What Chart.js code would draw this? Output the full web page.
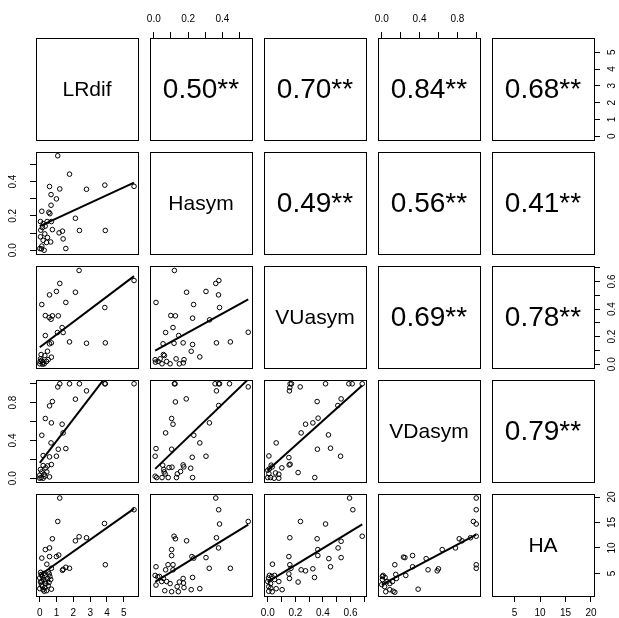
<!DOCTYPE html>
<html><head><meta charset="utf-8">
<script src="https://cdn.jsdelivr.net/npm/chart.js@4.4.1/dist/chart.umd.min.js"></script>
<style>
html,body{margin:0;padding:0;background:#fff;}
#wrap{position:relative;width:619px;height:618px;overflow:hidden;background:#fff;}
#wrap canvas{position:absolute;left:0;top:0;}
</style></head><body><div id="wrap"></div>
<script>
// ---------- DATA ----------
const varNames = ['LRdif', 'Hasym', 'VUasym', 'VDasym', 'HA'];
const varMin = [0, 0, 0, 0, 1.3];
const varMax = [5.62, 0.55, 0.685, 1.0, 19.85];
const tickStep = [1, 0.1, 0.1, 0.2, 5];
const labelEvery = [1, 2, 2, 2, 1];
const tickDecimals = [0, 1, 1, 1, 0];

// correlation labels (upper triangle), row by row
const corrRow0 = ['', '0.50**', '0.70**', '0.84**', '0.68**'];
const corrRow1 = ['', '', '0.49**', '0.56**', '0.41**'];
const corrRow2 = ['', '', '', '0.69**', '0.78**'];
const corrRow3 = ['', '', '', '', '0.79**'];

// scatter points [x, y] for lower panels
const hasym_vs_lrdif = [[1.07,0.55],[1.77,0.443],[0.58,0.371],[1.19,0.357],[0.67,0.324],[0.99,0.299],[0.67,0.262],[2.78,0.355],[3.87,0.379],[5.61,0.372],[0.12,0.227],[0.54,0.221],[0.6,0.213],[0.04,0.167],[0.44,0.167],[0.69,0.167],[2.12,0.186],[0.16,0.132],[0.32,0.14],[0.75,0.12],[1.15,0.101],[1.35,0.111],[2.36,0.115],[3.9,0.115],[1.39,0.066],[1.55,0.01],[0.04,0.078],[0.3,0.095],[0.46,0.074],[0.2,0.058],[0.65,0.048],[0.12,0.024],[0.26,0.0],[0.1,0.008],[0.4,0.045],[0.0,0.01],[0.2,0.155],[0.06,0.117]];
const vuasym_vs_lrdif = [[2.34,0.68],[1.19,0.586],[0.99,0.528],[0.58,0.503],[2.12,0.522],[1.55,0.448],[0.12,0.433],[3.87,0.411],[5.61,0.607],[0.33,0.353],[0.56,0.339],[0.75,0.351],[0.67,0.326],[1.1,0.351],[1.33,0.266],[1.05,0.23],[1.39,0.23],[0.33,0.208],[0.58,0.148],[0.69,0.155],[1.77,0.162],[2.78,0.152],[3.9,0.155],[0.46,0.094],[0.08,0.07],[0.69,0.051],[0.3,0.063],[0.04,0.039],[0.2,0.015],[0.0,0.003],[0.4,0.02],[0.16,0.0],[0.1,0.027],[0.26,0.003],[0.02,0.02],[0.5,0.033]];
const vuasym_vs_hasym = [[0.12,0.68],[0.379,0.607],[0.361,0.586],[0.191,0.522],[0.304,0.528],[0.377,0.503],[0.013,0.448],[0.232,0.433],[0.383,0.411],[0.099,0.353],[0.126,0.351],[0.226,0.334],[0.325,0.322],[0.112,0.266],[0.069,0.23],[0.145,0.208],[0.55,0.232],[0.054,0.148],[0.118,0.152],[0.171,0.155],[0.226,0.143],[0.365,0.155],[0.446,0.162],[0.218,0.094],[0.056,0.07],[0.268,0.053],[0.008,0.033],[0.025,0.02],[0.048,0.003],[0.075,0.02],[0.095,0.003],[0.13,0.039],[0.149,0.003],[0.172,0.01],[0.062,0.063],[0.01,0.015],[0.037,0.039],[0.176,0.033]];
const vdasym_vs_lrdif = [[1.19,1.0],[1.77,1.0],[2.36,1.0],[1.07,0.967],[3.87,1.0],[3.9,1.0],[5.61,1.0],[2.78,0.925],[2.12,0.837],[0.75,0.812],[0.58,0.766],[0.33,0.632],[0.69,0.586],[1.33,0.572],[1.39,0.48],[0.12,0.455],[0.67,0.374],[1.55,0.314],[1.1,0.307],[0.99,0.233],[0.58,0.226],[0.2,0.24],[0.69,0.145],[0.46,0.131],[0.2,0.134],[0.04,0.092],[0.36,0.11],[0.12,0.067],[0.0,0.032],[0.26,0.042],[0.58,0.014],[0.08,0.007],[0.2,0.0],[0.0,0.0],[0.42,0.067],[0.3,0.021]];
const vdasym_vs_hasym = [[0.12,1.0],[0.124,1.0],[0.357,1.0],[0.378,1.0],[0.383,1.0],[0.441,1.0],[0.55,0.967],[0.365,0.925],[0.189,0.84],[0.126,0.808],[0.378,0.77],[0.104,0.632],[0.112,0.572],[0.324,0.586],[0.069,0.48],[0.233,0.455],[0.268,0.374],[0.013,0.314],[0.104,0.307],[0.008,0.233],[0.224,0.222],[0.304,0.233],[0.052,0.138],[0.106,0.117],[0.171,0.141],[0.175,0.12],[0.215,0.106],[0.058,0.092],[0.089,0.113],[0.156,0.071],[0.06,0.067],[0.008,0.021],[0.017,0.007],[0.048,0.007],[0.084,0.007],[0.132,0.007],[0.226,0.007],[0.137,0.046],[0.066,0.046]];
const vdasym_vs_vuasym = [[0.162,1.0],[0.172,1.0],[0.16,0.96],[0.157,0.925],[0.235,0.967],[0.419,1.0],[0.588,1.0],[0.612,1.0],[0.685,1.0],[0.532,0.84],[0.508,0.77],[0.358,0.812],[0.365,0.636],[0.327,0.586],[0.274,0.572],[0.242,0.48],[0.44,0.459],[0.061,0.374],[0.36,0.307],[0.455,0.318],[0.528,0.233],[0.008,0.236],[0.153,0.219],[0.155,0.141],[0.162,0.148],[0.102,0.11],[0.22,0.06],[0.341,0.007],[0.032,0.12],[0.012,0.099],[0.0,0.085],[0.056,0.056],[0.008,0.049],[0.08,0.042],[0.02,0.007],[0.046,0.0],[0.08,0.0],[0.0,0.007],[0.025,0.138]];
const ha_vs_lrdif = [[1.19,19.8],[1.07,15.2],[5.61,17.5],[3.85,14.8],[0.75,11.8],[2.34,12.2],[2.12,11.4],[2.78,12.0],[0.33,9.67],[0.58,10.0],[0.12,8.0],[0.58,8.3],[0.99,8.3],[1.13,8.6],[3.9,6.7],[1.35,5.6],[1.55,6.2],[1.77,6.0],[1.39,5.8],[0.42,6.8],[0.69,6.0],[0.08,4.77],[0.3,4.6],[0.56,4.9],[0.0,4.1],[0.2,3.8],[0.46,4.0],[0.04,3.3],[0.36,3.0],[0.65,3.8],[0.0,2.0],[0.26,1.5],[0.16,2.4],[0.69,1.9],[0.4,1.6],[0.12,3.4],[0.6,4.4],[0.05,5.2],[0.25,5.0],[0.5,5.3],[0.15,4.4],[0.35,3.5],[0.55,3.2],[0.1,2.7],[0.3,2.2],[0.5,2.6],[0.2,1.8]];
const ha_vs_hasym = [[0.361,19.8],[0.378,17.5],[0.55,15.2],[0.383,14.7],[0.118,12.3],[0.126,11.8],[0.191,11.4],[0.365,12.0],[0.377,10.0],[0.104,9.67],[0.104,8.5],[0.222,8.3],[0.233,8.0],[0.304,8.1],[0.013,6.3],[0.083,6.7],[0.112,6.7],[0.069,5.7],[0.112,5.7],[0.323,6.0],[0.446,6.0],[0.008,4.6],[0.033,4.4],[0.056,4.0],[0.046,3.4],[0.075,3.4],[0.013,2.7],[0.095,3.0],[0.171,4.0],[0.226,4.2],[0.149,3.3],[0.173,3.1],[0.136,2.4],[0.176,2.2],[0.064,1.6],[0.104,1.4],[0.143,1.4],[0.218,1.8],[0.268,2.0],[0.023,4.3]];
const ha_vs_vuasym = [[0.593,19.8],[0.617,17.5],[0.237,15.2],[0.419,14.7],[0.685,12.3],[0.16,12.0],[0.358,11.8],[0.532,11.3],[0.51,10.0],[0.363,9.67],[0.363,8.5],[0.153,8.3],[0.443,7.9],[0.532,8.1],[0.034,6.8],[0.16,6.7],[0.168,6.0],[0.455,6.3],[0.242,5.7],[0.274,5.5],[0.327,5.9],[0.153,4.9],[0.339,4.2],[0.012,4.6],[0.005,4.1],[0.029,4.4],[0.049,4.6],[0.157,4.0],[0.0,3.4],[0.02,3.0],[0.08,3.4],[0.22,3.3],[0.007,2.4],[0.061,2.0],[0.104,1.8],[0.007,1.5],[0.032,1.4],[0.049,3.8],[0.022,2.1]];
const ha_vs_vdasym = [[1.0,19.8],[1.0,17.5],[0.97,15.2],[1.0,14.7],[1.0,12.3],[0.94,12.0],[0.85,11.4],[0.82,11.8],[0.78,10.0],[0.64,9.67],[0.47,7.9],[0.326,8.5],[0.245,8.1],[0.23,8.2],[1.0,6.7],[1.0,6.0],[0.138,6.7],[0.326,6.3],[0.49,5.7],[0.587,5.5],[0.6,5.9],[0.148,4.8],[0.254,4.6],[0.014,4.6],[0.035,4.2],[0.007,3.8],[0.056,3.4],[0.113,3.4],[0.155,4.0],[0.0,2.8],[0.03,2.4],[0.085,3.0],[0.042,1.4],[0.12,1.5],[0.085,1.8],[0.385,1.9],[0.138,1.3],[0.007,4.4]];

// fitted line [intercept, slope] for each lower panel
const fit_hasym_lrdif = [0.14, 0.0453];
const fit_vuasym_lrdif = [0.123, 0.092];
const fit_vuasym_hasym = [0.094, 0.683];
const fit_vdasym_lrdif = [0.162, 0.232];
const fit_vdasym_hasym = [0.085, 1.75];
const fit_vdasym_vuasym = [0.085, 1.31];
const fit_ha_lrdif = [4.64, 2.33];
const fit_ha_hasym = [3.15, 20.8];
const fit_ha_vuasym = [3.34, 16.5];
const fit_ha_vdasym = [2.81, 9.8];

// ---------- BUILD ----------
const lowerPoints = {
  '1,0': hasym_vs_lrdif, '2,0': vuasym_vs_lrdif, '2,1': vuasym_vs_hasym,
  '3,0': vdasym_vs_lrdif, '3,1': vdasym_vs_hasym, '3,2': vdasym_vs_vuasym,
  '4,0': ha_vs_lrdif, '4,1': ha_vs_hasym, '4,2': ha_vs_vuasym, '4,3': ha_vs_vdasym
};
const lowerFits = {
  '1,0': fit_hasym_lrdif, '2,0': fit_vuasym_lrdif, '2,1': fit_vuasym_hasym,
  '3,0': fit_vdasym_lrdif, '3,1': fit_vdasym_hasym, '3,2': fit_vdasym_vuasym,
  '4,0': fit_ha_lrdif, '4,1': fit_ha_hasym, '4,2': fit_ha_vuasym, '4,3': fit_ha_vdasym
};
const corrRows = [corrRow0, corrRow1, corrRow2, corrRow3];

const FONT = '"Liberation Sans", Arial, Helvetica, sans-serif';
const W = 619, H = 618, L0 = 36, T0 = 38, STEP = 114, SIZE = 102, TL = 6;
const wrap = document.getElementById('wrap');
const mctx = document.createElement('canvas').getContext('2d');
mctx.font = '10px ' + FONT;

function axisRange(v) {
  const r = varMax[v] - varMin[v];
  return [varMin[v] - 0.04 * r, varMax[v] + 0.04 * r];
}
function fmt(v, val, idx) {
  return idx % labelEvery[v] === 0 ? Number(val).toFixed(tickDecimals[v]) : '';
}
function widestLabel(v) {
  const [lo, hi] = axisRange(v);
  const s = tickStep[v];
  let w = 0, idx = 0;
  for (let k = Math.ceil(lo / s - 1e-9); k * s <= hi + 1e-9; k++, idx++) {
    const t = fmt(v, k * s, idx);
    w = Math.max(w, mctx.measureText(t).width);
  }
  return w;
}

// axisSize: space between the panel box and the canvas edge on that side
function scaleCfg(v, axis, pos, show, axisSize) {
  const [lo, hi] = axisRange(v);
  let pad;
  if (axis === 'x') pad = pos === 'top' ? 6.5 : 5;
  else {
    const half = widestLabel(v) / 2;
    pad = pos === 'left' ? (22.5 - TL - half) : (18.5 - TL - half);
  }
  return {
    type: 'linear', position: pos, display: show,
    min: lo, max: hi, bounds: 'ticks',
    afterFit(s) { if (!show) return; if (axis === 'x') s.height = axisSize; else s.width = axisSize; },
    grid: { display: true, drawOnChartArea: false, drawTicks: true, tickLength: TL, color: '#000', lineWidth: 1 },
    border: { display: false },
    ticks: {
      stepSize: tickStep[v], includeBounds: false, autoSkip: false, color: '#000',
      font: { family: FONT, size: 10 }, padding: pad,
      minRotation: axis === 'y' ? 90 : 0, maxRotation: axis === 'y' ? 90 : 0,
      crossAlign: axis === 'y' ? 'center' : 'near',
      callback: (val, idx) => fmt(v, val, idx)
    }
  };
}

const panelPlugin = {
  id: 'panel',
  afterDraw(chart, args, opts) {
    const { ctx, chartArea: a } = chart;
    ctx.save();
    ctx.strokeStyle = '#000';
    ctx.lineWidth = 1;
    const x0 = Math.round(a.left) + 0.5, y0 = Math.round(a.top) + 0.5;
    ctx.strokeRect(x0, y0, Math.round(a.right - a.left), Math.round(a.bottom - a.top));
    if (opts.text) {
      ctx.fillStyle = '#000';
      ctx.font = opts.size + 'px ' + FONT;
      ctx.textAlign = 'center';
      ctx.textBaseline = 'middle';
      ctx.fillText(opts.text, (a.left + a.right) / 2, (a.top + a.bottom) / 2 + 1);
    }
    ctx.restore();
  }
};

for (let r = 0; r < 5; r++) {
  for (let c = 0; c < 5; c++) {
    const L = L0 + STEP * c, T = T0 + STEP * r;
    const mL = L, mT = T, mR = W - (L + SIZE), mB = H - (T + SIZE);
    const showTop = r === 0 && c % 2 === 1;
    const showBottom = r === 4 && c % 2 === 0;
    const showLeft = c === 0 && r % 2 === 1;
    const showRight = c === 4 && r % 2 === 0;
    const padding = {
      left: showLeft ? 0 : mL,
      top: showTop ? 0 : mT,
      right: showRight ? 0 : mR,
      bottom: showBottom ? 0 : mB
    };
    const datasets = [];
    let text = '', size = 21;
    if (r > c) {
      const pts = lowerPoints[r + ',' + c];
      const fit = lowerFits[r + ',' + c];
      const xs = pts.map(p => p[0]);
      const xmin = Math.min(...xs), xmax = Math.max(...xs);
      datasets.push({
        data: pts.map(p => ({ x: p[0], y: p[1] })),
        pointStyle: 'circle', pointRadius: 2.3, borderWidth: 1,
        borderColor: '#000', backgroundColor: 'rgba(0,0,0,0)', clip: false
      });
      datasets.push({
        data: [{ x: xmin, y: fit[0] + fit[1] * xmin }, { x: xmax, y: fit[0] + fit[1] * xmax }],
        showLine: true, pointRadius: 0, borderWidth: 2, borderColor: '#000',
        backgroundColor: '#000', fill: false, clip: 0
      });
    } else if (r === c) {
      text = varNames[r]; size = 21;
    } else {
      text = corrRows[r][c]; size = 28;
    }
    const cv = document.createElement('canvas');
    cv.width = W; cv.height = H;
    cv.style.width = W + 'px'; cv.style.height = H + 'px';
    wrap.appendChild(cv);
    new Chart(cv, {
      type: 'scatter',
      data: { datasets },
      options: {
        responsive: false, devicePixelRatio: 1, animation: false, events: [],
        layout: { padding, autoPadding: false },
        scales: {
          x: scaleCfg(c, 'x', showTop ? 'top' : 'bottom', showTop || showBottom, showTop ? mT : mB),
          y: scaleCfg(r, 'y', showLeft ? 'left' : 'right', showLeft || showRight, showLeft ? mL : mR)
        },
        plugins: { legend: { display: false }, tooltip: { enabled: false }, panel: { text, size } }
      },
      plugins: [panelPlugin]
    });
  }
}
</script>
</body></html>
